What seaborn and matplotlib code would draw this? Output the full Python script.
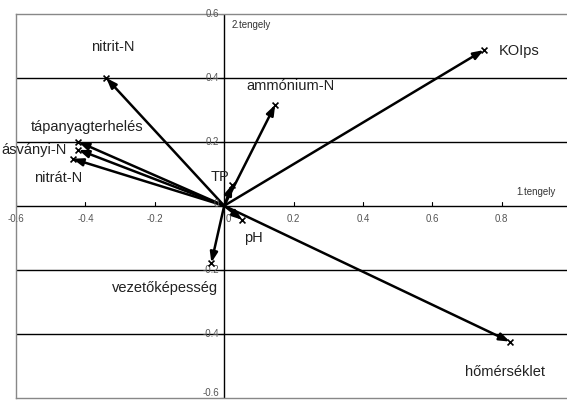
import matplotlib
matplotlib.use("Agg")
import matplotlib.pyplot as plt
import seaborn as sns
import pandas as pd

# Loadings of the variables on the first two principal axes
variables = ["nitrit-N", "ammónium-N", "KOIps", "tápanyagterhelés", "ásványi-N",
             "nitrát-N", "TP", "pH", "vezetőképesség", "hőmérséklet"]
axis1 = [-0.34, 0.147, 0.748, -0.42, -0.42, -0.437, 0.023, 0.052, -0.037, 0.823]
axis2 = [0.40, 0.316, 0.487, 0.20, 0.175, 0.147, 0.066, -0.044, -0.178, -0.425]

# Label positions (data coordinates) and alignment per variable
label_x = [-0.32, 0.19, 0.792, -0.394, -0.642, -0.478, -0.012, 0.085, -0.17, 0.81]
label_y = [0.497, 0.375, 0.484, 0.247, 0.175, 0.088, 0.09, -0.10, -0.256, -0.52]
label_ha = ["center", "center", "left", "center", "left", "center", "center", "center", "center", "center"]

xticks = [-0.6, -0.4, -0.2, 0, 0.2, 0.4, 0.6, 0.8]
yticks = [-0.6, -0.4, -0.2, 0, 0.2, 0.4, 0.6]
hlines = [-0.4, -0.2, 0.2, 0.4]

sns.set_style("white")
plt.rcParams["font.family"] = ["Liberation Sans", "DejaVu Sans"]

df = pd.DataFrame({"változó": variables, "1.tengely": axis1, "2.tengely": axis2})

fig = plt.figure(figsize=(5.67, 4.0), dpi=100)
ax = fig.add_axes([16 / 567, 2.5 / 400, 1 - 16 / 567, 383.5 / 400])
ax.set_xlim(-0.6, 0.988)
ax.set_ylim(-0.6, 0.6)

# Gridlines and the two axes through the origin
for h in hlines:
    ax.axhline(h, color="black", lw=1.0, zorder=1)
ax.axhline(0, color="black", lw=1.0, zorder=1)
ax.axvline(0, color="black", lw=1.0, zorder=1)

# Arrows from the origin to each loading
for x, y in zip(df["1.tengely"], df["2.tengely"]):
    ax.annotate("", xy=(x, y), xytext=(0, 0),
                arrowprops=dict(arrowstyle="-|>,head_length=0.6,head_width=0.22",
                                color="black", lw=1.8, shrinkA=0, shrinkB=0),
                zorder=3)
sns.scatterplot(data=df, x="1.tengely", y="2.tengely", ax=ax, marker="x",
                color="black", s=18, linewidth=1.2, zorder=4, legend=False)

for name, lx, ly, ha in zip(variables, label_x, label_y, label_ha):
    ax.text(lx, ly, name, ha=ha, va="center", fontsize=10.5, color="#222222",
            zorder=5, clip_on=False)

# Tick labels drawn along the axes through the origin
for t in xticks:
    txt = "0" if t == 0 else f"{t:.1f}"
    ax.text(t + (0.012 if t == 0 else 0), -0.04, txt, ha="center", va="center",
            fontsize=7, color="#555555")
for t in yticks:
    txt = "0" if t == 0 else f"{t:.1f}"
    ty = -0.585 if t == -0.6 else (0.004 if t == 0 else t)
    ax.text(-0.015, ty, txt, ha="right", va="center", fontsize=7, color="#555555")
    ax.plot([-0.012, 0], [t, t], color="black", lw=0.8)
for t in xticks:
    ax.plot([t, t], [0, 0.012], color="black", lw=0.8)

ax.text(0.02, 0.565, "2.tengely", ha="left", va="center", fontsize=7, color="#333333")
ax.text(0.955, 0.043, "1.tengely", ha="right", va="center", fontsize=7, color="#333333")

ax.set_xticks([])
ax.set_yticks([])
ax.set_xlabel("")
ax.set_ylabel("")
for side in ["left", "top", "bottom"]:
    ax.spines[side].set_linestyle((0, (1, 1)))
    ax.spines[side].set_color("#888888")
    ax.spines[side].set_linewidth(1.0)
ax.spines["right"].set_visible(False)

fig.savefig("out.png", dpi=100)
